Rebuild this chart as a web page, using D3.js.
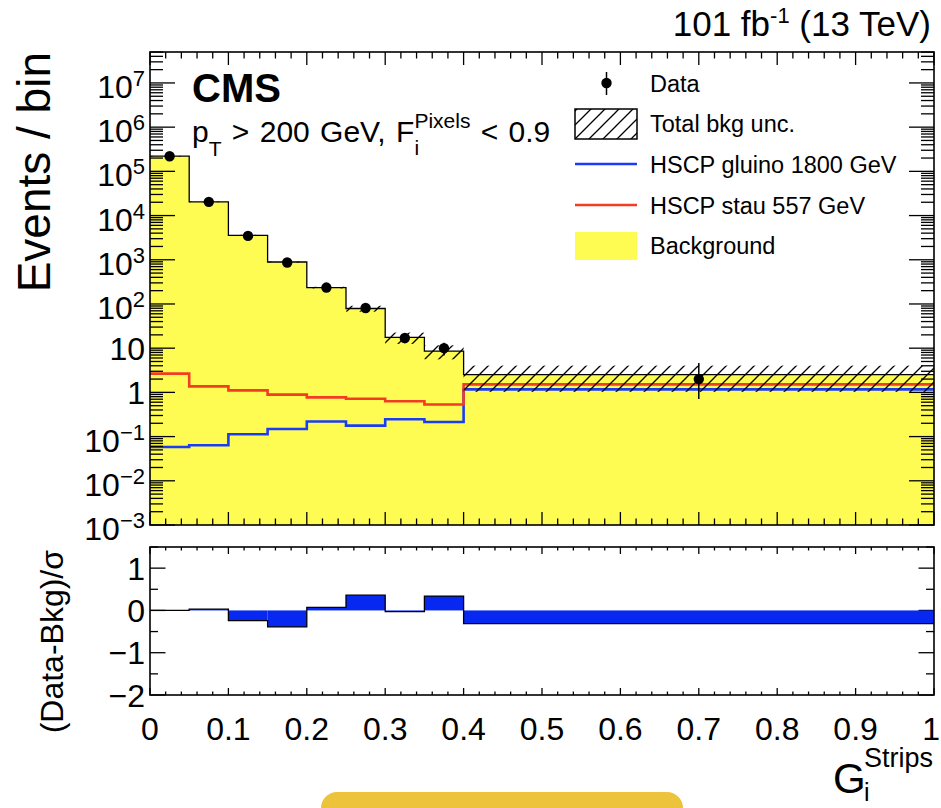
<!DOCTYPE html>
<html>
<head>
<meta charset="utf-8">
<script src="https://cdn.jsdelivr.net/npm/d3@7"></script>
<style>
  body { margin: 0; background: #fff; }
  text { font-family: "Liberation Sans", Arial, Helvetica, sans-serif; fill: #000; }
</style>
</head>
<body>
<svg id="chart" width="941" height="808"></svg>
<script>
// ---- data -------------------------------------------------------------
const binEdges   = [0, 0.05, 0.1, 0.15, 0.2, 0.25, 0.3, 0.35, 0.4, 1.0];
const background = [2.2e5, 2.04e4, 3580, 890, 235, 79, 17.5, 8.6, 2.53];
const bkgUnc     = [4000, 400, 90, 25, 10, 12, 5, 3, 1.5];
const dataX      = [0.025, 0.075, 0.125, 0.175, 0.225, 0.275, 0.325, 0.375, 0.7];
const dataY      = [2.2e5, 2.04e4, 3470, 865, 235, 81, 17, 10, 2];
const dataErrLo  = [470, 143, 59, 29, 15, 9, 4.1, 3.2, 1.29];
const dataErrHi  = [470, 143, 59, 29, 15, 9, 4.1, 3.2, 2.64];
const gluino     = [0.058, 0.0636, 0.113, 0.149, 0.219, 0.177, 0.246, 0.214, 1.17];
const stau       = [2.66, 1.37, 1.11, 0.89, 0.77, 0.72, 0.63, 0.53, 1.52];
const pull       = [0.0, 0.03, -0.24, -0.39, 0.07, 0.36, -0.03, 0.34, -0.31];

const xTicks      = [0, 0.1, 0.2, 0.3, 0.4, 0.5, 0.6, 0.7, 0.8, 0.9, 1];
const xTickLabels = ["0", "0.1", "0.2", "0.3", "0.4", "0.5", "0.6", "0.7", "0.8", "0.9", "1"];
const yExponents  = [-3, -2, -1, 0, 1, 2, 3, 4, 5, 6, 7];
const pullTicks   = [-2, -1, 0, 1];
const pullLabels  = ["\u22122", "\u22121", "0", "1"];

const legendItems = ["Data", "Total bkg unc.", "HSCP gluino 1800 GeV", "HSCP stau 557 GeV", "Background"];

// ---- colours ----------------------------------------------------------
const YELLOW = "#fefb52", BLUE = "#1a3cf5", RED = "#f23c24", PULLBLUE = "#0628f0";

// ---- layout -----------------------------------------------------------
const L = 150, R = 934;
const mainTop = 52, mainBot = 525;
const pullTop = 547, pullBot = 695;

const svg = d3.select("#chart");
const x  = d3.scaleLinear().domain([0, 1]).range([L, R]);
const y  = d3.scaleLog().domain([1e-3, Math.pow(10, 7.7)]).range([mainBot, mainTop]);
const yp = d3.scaleLinear().domain([-2, 1.5]).range([pullBot, pullTop]);

// hatch pattern
const defs = svg.append("defs");
const pat = defs.append("pattern").attr("id", "hatch").attr("patternUnits", "userSpaceOnUse")
  .attr("width", 14).attr("height", 14);
pat.append("path").attr("d", "M0,14 L14,0 M-4,4 L4,-4 M10,18 L18,10")
  .attr("stroke", "#000").attr("stroke-width", 1.3);
defs.append("clipPath").attr("id", "mainClip").append("rect")
  .attr("x", L).attr("y", mainTop).attr("width", R - L).attr("height", mainBot - mainTop);

// step points from per-bin values
function steps(vals, scaleY) {
  const pts = [];
  vals.forEach((v, i) => {
    pts.push([x(binEdges[i]), scaleY(v)]);
    pts.push([x(binEdges[i + 1]), scaleY(v)]);
  });
  return pts;
}
const line = d3.line();

const main = svg.append("g").attr("clip-path", "url(#mainClip)");

// background fill
main.append("path")
  .attr("d", d3.area().x(d => d[0]).y0(y(1e-3)).y1(d => d[1])(steps(background, y)))
  .attr("fill", YELLOW);
// background outline
main.append("path").attr("d", line(steps(background, y)))
  .attr("fill", "none").attr("stroke", "#000").attr("stroke-width", 1.3);

// signal curves
main.append("path").attr("d", line(steps(gluino, y)))
  .attr("fill", "none").attr("stroke", BLUE).attr("stroke-width", 2.6);
main.append("path").attr("d", line(steps(stau, y)))
  .attr("fill", "none").attr("stroke", RED).attr("stroke-width", 2.6);

// background uncertainty band
main.selectAll("rect.unc").data(background).join("rect").attr("class", "unc")
  .attr("x", (d, i) => x(binEdges[i]))
  .attr("width", (d, i) => x(binEdges[i + 1]) - x(binEdges[i]))
  .attr("y", (d, i) => y(d + bkgUnc[i]))
  .attr("height", (d, i) => y(d - bkgUnc[i]) - y(d + bkgUnc[i]))
  .attr("fill", "url(#hatch)");

// data points
main.selectAll("line.err").data(dataY).join("line").attr("class", "err")
  .attr("x1", (d, i) => x(dataX[i])).attr("x2", (d, i) => x(dataX[i]))
  .attr("y1", (d, i) => y(d + dataErrHi[i])).attr("y2", (d, i) => y(d - dataErrLo[i]))
  .attr("stroke", "#000").attr("stroke-width", 1.5);
main.selectAll("circle.pt").data(dataY).join("circle").attr("class", "pt")
  .attr("cx", (d, i) => x(dataX[i])).attr("cy", d => y(d)).attr("r", 5.2).attr("fill", "#000");

// ---- axes: ticks ------------------------------------------------------
const axes = svg.append("g").attr("stroke", "#000").attr("fill", "none");
function tick(x1, y1, x2, y2, w) {
  axes.append("line").attr("x1", x1).attr("y1", y1).attr("x2", x2).attr("y2", y2)
    .attr("stroke-width", w || 1.3);
}
// x ticks, both panels
const xMinor = d3.range(0, 51).map(k => k / 50);
xMinor.forEach((v, k) => {
  const isMajor = k % 5 === 0;
  const px = x(v);
  const mLen = isMajor ? 13 : 6.5, pLen = isMajor ? 7 : 3.5;
  tick(px, mainBot, px, mainBot - mLen);
  tick(px, mainTop, px, mainTop + mLen);
  tick(px, pullBot, px, pullBot - pLen);
  tick(px, pullTop, px, pullTop + pLen);
});
// log y ticks, both sides
const yMax = Math.pow(10, 7.7);
yExponents.forEach(e => {
  const major = Math.pow(10, e);
  tick(L, y(major), L + 25, y(major));
  tick(R, y(major), R - 25, y(major));
  for (let m = 2; m <= 9; m++) {
    const v = m * major;
    if (v > yMax) break;
    tick(L, y(v), L + 13, y(v));
    tick(R, y(v), R - 13, y(v));
  }
});
// pull y ticks
[-2, -1.5, -1, -0.5, 0, 0.5, 1, 1.5].forEach(v => {
  const len = Number.isInteger(v) ? 15.5 : 8;
  tick(L, yp(v), L + len, yp(v));
  tick(R, yp(v), R - len, yp(v));
});

// pull histogram
const pullG = svg.append("g");
pullG.selectAll("rect").data(pull).join("rect")
  .attr("x", (d, i) => x(binEdges[i]))
  .attr("width", (d, i) => x(binEdges[i + 1]) - x(binEdges[i]))
  .attr("y", d => Math.min(yp(d), yp(0)))
  .attr("height", d => Math.abs(yp(d) - yp(0)))
  .attr("fill", PULLBLUE);
pullG.append("path").attr("d", line(steps(pull, yp)))
  .attr("fill", "none").attr("stroke", "#000").attr("stroke-width", 1.3);

// frames
svg.append("rect").attr("x", L).attr("y", mainTop).attr("width", R - L).attr("height", mainBot - mainTop)
  .attr("fill", "none").attr("stroke", "#000").attr("stroke-width", 1.6);
svg.append("rect").attr("x", L).attr("y", pullTop).attr("width", R - L).attr("height", pullBot - pullTop)
  .attr("fill", "none").attr("stroke", "#000").attr("stroke-width", 1.6);

// ---- tick labels ------------------------------------------------------
const labels = svg.append("g");
yExponents.forEach(e => {
  const t = labels.append("text").attr("text-anchor", "end").attr("x", 145)
    .attr("y", y(Math.pow(10, e)) + 11.5).style("font-size", "32px");
  if (e === 0) { t.text("1"); return; }
  if (e === 1) { t.text("10"); return; }
  t.attr("y", y(Math.pow(10, e)) + 15);
  t.append("tspan").text("10");
  t.append("tspan").attr("dy", -12).style("font-size", "22px").text(e < 0 ? "\u2212" + (-e) : String(e));
});
pullTicks.forEach((v, i) => {
  labels.append("text").attr("text-anchor", "end").attr("x", 145).attr("y", yp(v) + 11.5)
    .style("font-size", "32px").text(pullLabels[i]);
});
xTicks.forEach((v, i) => {
  labels.append("text").attr("text-anchor", i === xTicks.length - 1 ? "end" : "middle")
    .attr("x", i === xTicks.length - 1 ? 940 : x(v)).attr("y", 740)
    .style("font-size", "32px").text(xTickLabels[i]);
});

// ---- titles -----------------------------------------------------------
svg.append("text").attr("transform", "translate(50," + mainTop + ") rotate(-90)")
  .attr("text-anchor", "end").style("font-size", "46px").text("Events / bin");
svg.append("text").attr("transform", "translate(63," + (pullTop + 3) + ") rotate(-90)")
  .attr("text-anchor", "end").style("font-size", "32px").text("(Data-Bkg)/\u03c3");

svg.append("text").attr("x", 833).attr("y", 793).style("font-size", "42px").text("G");
svg.append("text").attr("x", 864).attr("y", 767).style("font-size", "27px").text("Strips");
svg.append("text").attr("x", 864).attr("y", 801).style("font-size", "25px").text("i");

const lumi = svg.append("text").attr("x", 931).attr("y", 36).attr("text-anchor", "end").style("font-size", "35px");
lumi.append("tspan").text("101 fb");
lumi.append("tspan").attr("dy", -13).style("font-size", "22px").text("-1");
lumi.append("tspan").attr("dy", 13).text(" (13 TeV)");

svg.append("text").attr("x", 192).attr("y", 101.7).style("font-size", "40px").style("font-weight", "bold").text("CMS");

const cut = svg.append("text").attr("x", 192).attr("y", 141.7).style("font-size", "30px")
  .style("word-spacing", "2px");
cut.append("tspan").text("p");
cut.append("tspan").attr("dy", 14).style("font-size", "21px").text("T");
cut.append("tspan").attr("dy", -14).text(" > 200 GeV, F");
const pix = cut.append("tspan").attr("dy", -14).style("font-size", "21px").text("Pixels");
cut.append("tspan").attr("dy", 14).text(" < 0.9");
// subscript index sits under the "Pixels" superscript
const pixX = pix.node().getStartPositionOfChar(0).x;
svg.append("text").attr("x", pixX).attr("y", 155).style("font-size", "21px").text("i");

// ---- legend -----------------------------------------------------------
const legY = [83, 123.5, 164, 205, 245.5];
const lg = svg.append("g");
lg.append("line").attr("x1", 606.5).attr("x2", 606.5).attr("y1", 72).attr("y2", 95)
  .attr("stroke", "#000").attr("stroke-width", 1.5);
lg.append("circle").attr("cx", 606.5).attr("cy", legY[0]).attr("r", 5.2).attr("fill", "#000");
lg.append("rect").attr("x", 575).attr("y", 109).attr("width", 62).attr("height", 30)
  .attr("fill", "url(#hatch)").attr("stroke", "#000").attr("stroke-width", 1.5);
lg.append("line").attr("x1", 575).attr("x2", 637).attr("y1", legY[2]).attr("y2", legY[2])
  .attr("stroke", BLUE).attr("stroke-width", 2.6);
lg.append("line").attr("x1", 575).attr("x2", 637).attr("y1", legY[3]).attr("y2", legY[3])
  .attr("stroke", RED).attr("stroke-width", 2.6);
lg.append("rect").attr("x", 575).attr("y", 232).attr("width", 62).attr("height", 28).attr("fill", YELLOW);
legendItems.forEach((t, i) => {
  lg.append("text").attr("x", 650).attr("y", legY[i] + 8.5).style("font-size", "23.5px").text(t);
});

// ---- bottom button strip ----------------------------------------------
svg.append("rect").attr("x", 321).attr("y", 792).attr("width", 362).attr("height", 40)
  .attr("rx", 16).attr("fill", "#ecc33b");
</script>
</body>
</html>
